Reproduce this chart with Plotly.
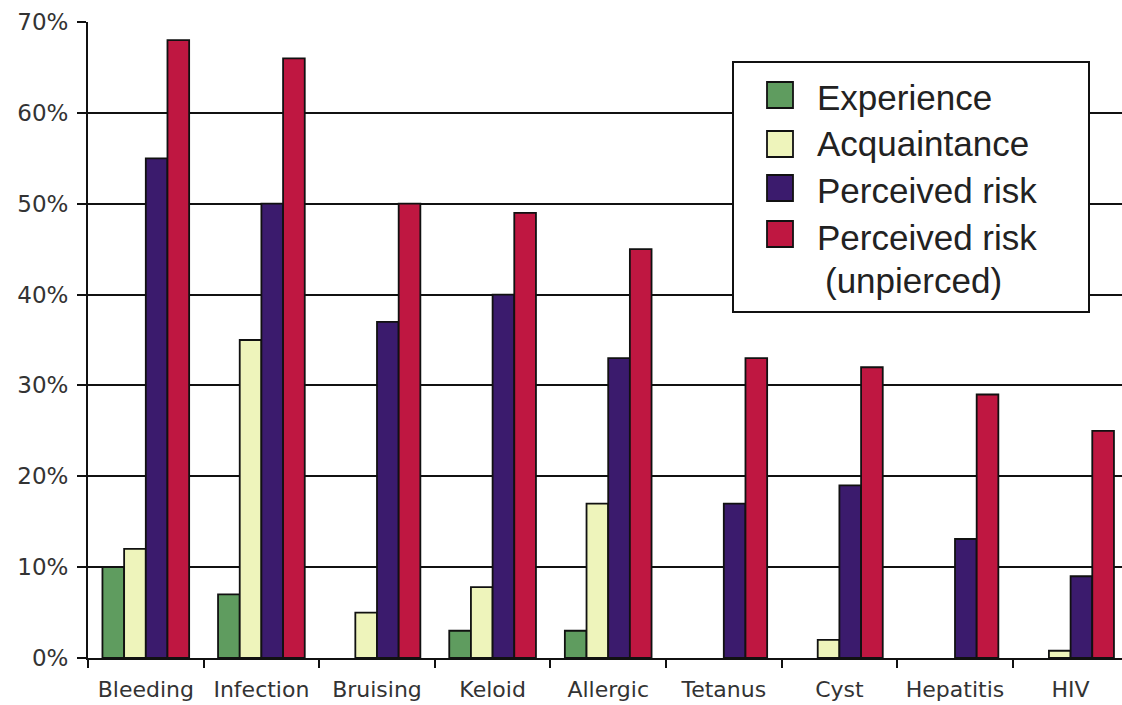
import plotly.graph_objects as go

categories = ["Bleeding", "Infection", "Bruising", "Keloid", "Allergic",
              "Tetanus", "Cyst", "Hepatitis", "HIV"]

experience = [10, 7, 0, 3, 3, 0, 0, 0, 0]
acquaintance = [12, 35, 5, 7.8, 17, 0, 2, 0, 0.8]
perceived_risk = [55, 50, 37, 40, 33, 17, 19, 13.1, 9]
perceived_unpierced = [68, 66, 50, 49, 45, 33, 32, 29, 25]

series_names = ["Experience", "Acquaintance", "Perceived risk",
                "Perceived risk (unpierced)"]
legend_lines = [["Experience"], ["Acquaintance"], ["Perceived risk"],
                ["Perceived risk", "(unpierced)"]]
series_colors = ["#5f9c5f", "#eef4bb", "#3b1b6d", "#bf1741"]
y_ticks = [0, 10, 20, 30, 40, 50, 60, 70]

# figure geometry in pixels
W, H = 1122, 705
L, R, T, B = 88, 0, 22, 47
PW, PH = W - L - R, H - T - B
CAT_W = 115.6  # pixel width of one category slot


def px_x(p):
    return (p - L) / PW


def px_y(p):
    return (H - B - p) / PH


fig = go.Figure()
for name, vals, col in zip(series_names,
                           [experience, acquaintance, perceived_risk, perceived_unpierced],
                           series_colors):
    fig.add_trace(go.Bar(
        x=categories, y=[v if v else None for v in vals], name=name,
        marker=dict(color=col, line=dict(color="#111111", width=1.8)),
        showlegend=False,
    ))

# legend box drawn as shapes and text
shapes = [dict(type="rect", xref="paper", yref="paper",
               x0=px_x(733), x1=px_x(1089), y0=px_y(312), y1=px_y(62),
               fillcolor="white", line=dict(color="#111111", width=2), layer="above")]
annotations = []
sw_tops = [82, 131, 175, 221]
line_centers = [98, 143, 190, 237]
for i, (lines, col) in enumerate(zip(legend_lines, series_colors)):
    shapes.append(dict(type="rect", xref="paper", yref="paper",
                       x0=px_x(767), x1=px_x(793),
                       y0=px_y(sw_tops[i] + 26), y1=px_y(sw_tops[i]),
                       fillcolor=col, line=dict(color="#111111", width=1.8),
                       layer="above"))
    for j, txt in enumerate(lines):
        annotations.append(dict(
            text=txt, xref="paper", yref="paper",
            x=px_x(815 + 8 * j), y=px_y(line_centers[i] + 43.5 * j),
            xanchor="left", yanchor="middle", showarrow=False,
            font=dict(family="Liberation Sans", size=35, color="#222222"),
        ))

fig.update_layout(
    width=W, height=H,
    margin=dict(l=L, r=R, t=T, b=B),
    paper_bgcolor="white", plot_bgcolor="white",
    barmode="group", bargap=0.25, bargroupgap=0,
    font=dict(family="DejaVu Sans", color="#333333"),
    shapes=shapes, annotations=annotations,
    xaxis=dict(
        type="category",
        range=[-0.5, -0.5 + PW / CAT_W],
        showline=True, linecolor="#111111", linewidth=2,
        ticks="outside", tickson="boundaries", ticklen=8, tickwidth=2,
        tickcolor="#111111", ticklabelstandoff=11,
        tickfont=dict(family="DejaVu Sans", size=22, color="#333333"),
        showgrid=False, automargin=False,
    ),
    yaxis=dict(
        range=[0, 70],
        tickvals=y_ticks, ticktext=[f"{v}%" for v in y_ticks],
        showline=True, linecolor="#111111", linewidth=2,
        ticks="outside", ticklen=9, tickwidth=2, tickcolor="#111111",
        ticklabelstandoff=4,
        tickfont=dict(family="DejaVu Sans", size=23, color="#333333"),
        showgrid=True, gridcolor="#111111", gridwidth=2,
        zeroline=False, automargin=False,
    ),
)

fig.write_html("out.html")
